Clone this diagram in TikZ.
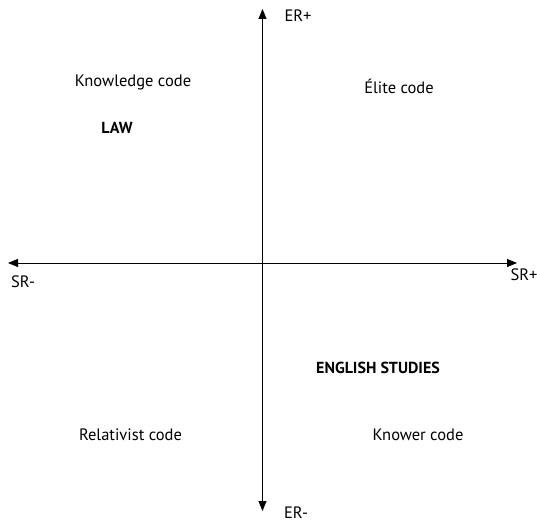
\documentclass[tikz,border=0pt]{standalone}
\usepackage{fontspec}
\setmainfont{PT Sans}
\usepackage{tikz}
\usetikzlibrary{arrows.meta, positioning, calc}

\begin{document}
\begin{tikzpicture}[x=1pt, y=1pt,
    axis/.style={line width=0.9pt, {Triangle[length=10pt,width=8pt]}-{Triangle[length=10pt,width=8pt]}},
    code/.style={font=\fontsize{16.5}{19}\selectfont},
    field/.style={font=\fontsize{16}{19}\selectfont\bfseries},
    pole/.style={font=\fontsize{16.5}{19}\selectfont}]
\useasboundingbox (0,0) rectangle (537,524);

% Axis end points
\coordinate (srminus) at (8,261);
\coordinate (srplus) at (517,261);
\coordinate (erplus) at (262.5,515);
\coordinate (erminus) at (262.5,13);

% Axes
\draw[axis] (srminus) -- (srplus);
\draw[axis] (erminus) -- (erplus);

% Pole labels
\node[pole] (erp) at (298,508) {ER+};
\node[pole] (erm) at (296,11) {ER-};
\node[pole] (srm) at (23,242) {SR-};
\node[pole] (srp) at (524,249) {SR+};

% Codes
\node[code] (knowledge) at (133,442) {Knowledge code};
\node[code] (elite) at (399,438) {Élite code};
\node[code] (relativist) at (130.5,89) {Relativist code};
\node[code] (knower) at (418,89) {Knower code};

% Fields
\node[field] (law) at (117,396) {LAW};
\node[field] (english) at (378,156) {ENGLISH STUDIES};
\end{tikzpicture}
\end{document}
